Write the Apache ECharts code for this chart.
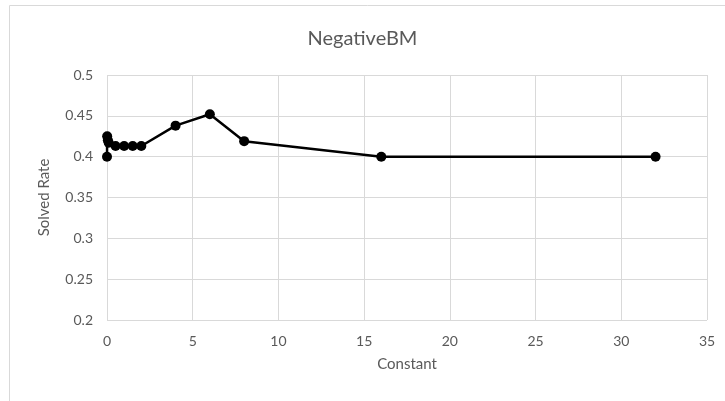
<!DOCTYPE html>
<html><head><meta charset="utf-8">
<script src="https://cdn.jsdelivr.net/npm/echarts@6/dist/echarts.min.js"></script>
<style>html,body{margin:0;padding:0;background:#fff}#c{width:725px;height:401px}</style>
</head><body><div id="c"></div>
<script>
const constants = [0, 0.01, 0.05, 0.1, 0.5, 1, 1.5, 2, 4, 6, 8, 16, 32];
const solvedRate = [0.4, 0.425, 0.42, 0.417, 0.413, 0.413, 0.413, 0.413, 0.438, 0.452, 0.419, 0.4, 0.4];
const xTicks = [0, 5, 10, 15, 20, 25, 30, 35];
const yTicks = [0.2, 0.25, 0.3, 0.35, 0.4, 0.45, 0.5];

const chart = echarts.init(document.getElementById('c'));
const font = 'Lato, "Open Sans", sans-serif';
chart.setOption({
  animation: false,
  title: {text: 'NegativeBM', left: 'center', top: 24, textStyle: {fontFamily: font, fontSize: 20, fontWeight: 'normal', color: '#595959'}},
  graphic: [{type: 'rect', shape: {x: 9.5, y: 5.5, width: 730, height: 420}, style: {fill: 'none', stroke: '#d9d9d9', lineWidth: 1}, silent: true}],
  grid: {left: 107, right: 18, top: 75, bottom: 81},
  xAxis: {
    type: 'value', min: xTicks[0], max: xTicks[xTicks.length-1], interval: 5,
    name: 'Constant', nameLocation: 'middle', nameGap: 37,
    nameTextStyle: {fontFamily: font, fontSize: 15, color: '#595959'},
    axisLine: {show: false}, axisTick: {show: false},
    axisLabel: {fontFamily: font, fontSize: 14, color: '#595959', margin: 14},
    splitLine: {show: true, lineStyle: {color: '#d9d9d9', width: 1}}
  },
  yAxis: {
    type: 'value', min: yTicks[0], max: yTicks[yTicks.length-1], interval: 0.05,
    name: 'Solved Rate', nameLocation: 'middle', nameGap: 55,
    nameTextStyle: {fontFamily: font, fontSize: 15, color: '#595959'},
    axisLine: {show: false}, axisTick: {show: false},
    axisLabel: {fontFamily: font, fontSize: 14, color: '#595959', margin: 14},
    splitLine: {show: true, lineStyle: {color: '#d9d9d9', width: 1}}
  },
  series: [{
    type: 'line',
    data: constants.map((x, i) => [x, solvedRate[i]]),
    symbol: 'circle', symbolSize: 10,
    lineStyle: {color: '#000', width: 2.5},
    itemStyle: {color: '#000'}
  }]
});
</script></body></html>
